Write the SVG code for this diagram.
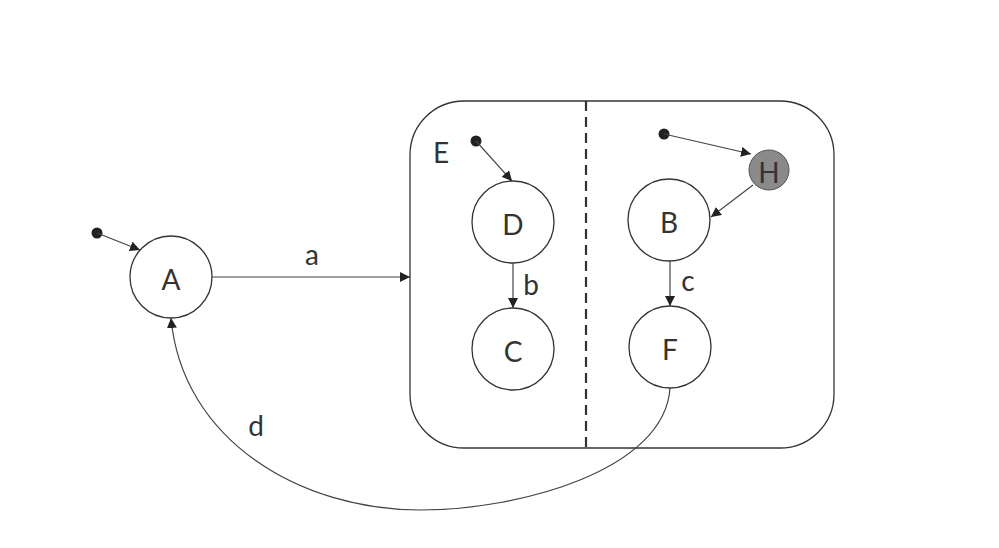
<svg xmlns="http://www.w3.org/2000/svg" width="999" height="548" viewBox="0 0 999 548">
<style>
.st{fill:#fff;stroke:#333;stroke-width:1.3}
.ln{fill:none;stroke:#444;stroke-width:1.2}
.lb{font-family:Lato,"Open Sans","Liberation Sans",sans-serif;font-size:28px;fill:#333;text-anchor:middle;dominant-baseline:central}
.dot{fill:#222}
</style>
<defs>
<marker id="ah" viewBox="0 0 10 10" refX="10" refY="5" markerWidth="10" markerHeight="10" markerUnits="userSpaceOnUse" orient="auto">
<path d="M0,0 L10,5 L0,10 z" fill="#222"/>
</marker>
</defs>
<rect width="999" height="548" fill="#fff"/>
<g id="E">
<rect x="410" y="101" width="424" height="347" rx="54" ry="54" fill="none" stroke="#333" stroke-width="1.3"/>
<line x1="586" y1="101" x2="586" y2="448" stroke="#333" stroke-width="2.2" stroke-dasharray="10,6"/>
<text class="lb" x="441" y="152">E</text>
</g>
<g id="A"><circle class="st" cx="171" cy="277" r="41"/><text class="lb" x="171" y="279">A</text></g>
<g id="D"><circle class="st" cx="513" cy="222" r="41"/><text class="lb" x="513" y="224">D</text></g>
<g id="C"><circle class="st" cx="513" cy="349" r="41"/><text class="lb" x="513" y="351">C</text></g>
<g id="B"><circle class="st" cx="669" cy="220" r="41"/><text class="lb" x="669" y="222">B</text></g>
<g id="F"><circle class="st" cx="670" cy="347" r="41"/><text class="lb" x="670" y="349">F</text></g>
<g id="H"><circle cx="769" cy="170" r="20" fill="#8a8a8a" stroke="#555" stroke-width="1"/><text class="lb" x="769" y="172">H</text></g>
<g id="init">
<circle class="dot" cx="97" cy="233" r="5.5"/>
<circle class="dot" cx="476" cy="141" r="5.5"/>
<circle class="dot" cx="664" cy="134" r="5.5"/>
</g>
<g id="connectors">
<line class="ln" x1="97" y1="233" x2="140" y2="250" marker-end="url(#ah)"/>
<line class="ln" x1="212" y1="277" x2="410" y2="277" marker-end="url(#ah)"/>
<line class="ln" x1="476" y1="141" x2="512" y2="181" marker-end="url(#ah)"/>
<line class="ln" x1="513" y1="263" x2="513" y2="308" marker-end="url(#ah)"/>
<line class="ln" x1="664" y1="134" x2="751" y2="154" marker-end="url(#ah)"/>
<line class="ln" x1="753" y1="185" x2="711" y2="217" marker-end="url(#ah)"/>
<line class="ln" x1="670" y1="261" x2="670" y2="306" marker-end="url(#ah)"/>
<path class="ln" d="M670,388 C665,470 520,510 420,510 C300,510 182,440 171,318" stroke="#333" stroke-width="1.8" marker-end="url(#ah)"/>
<text class="lb" x="312" y="254">a</text>
<text class="lb" x="531" y="284">b</text>
<text class="lb" x="688" y="280">c</text>
<text class="lb" x="256" y="425">d</text>
</g>
</svg>
